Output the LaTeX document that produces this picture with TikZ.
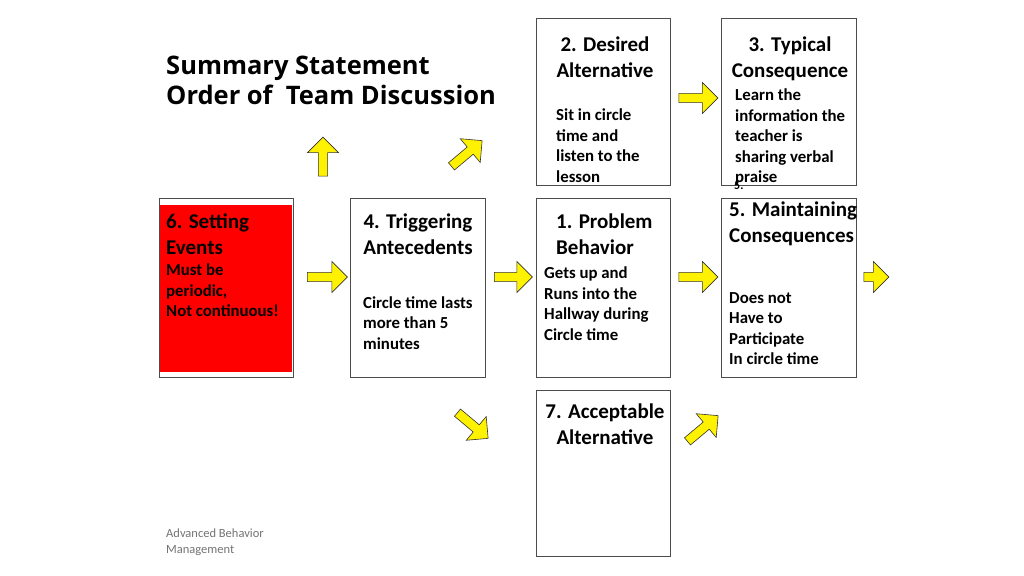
\documentclass[tikz,border=0pt]{standalone}
\usepackage{fontspec}
\setmainfont{Carlito}
\newfontfamily\titlefont{Open Sans}
\usetikzlibrary{shapes.arrows}
\begin{document}
\begin{tikzpicture}[x=1pt,y=-1pt,
  box/.style={draw=black!70,line width=0.6pt},
  yarr/.style={single arrow,draw=black!80,fill=yellow,line width=0.6pt,minimum height=#1,single arrow head extend=3pt,minimum width=31pt,inner sep=1pt},
  head/.style={font=\bfseries\fontsize{21}{25.5}\selectfont,align=center,inner sep=0pt},
  body/.style={font=\bfseries\fontsize{16.8}{20.5}\selectfont,align=left,anchor=north west,inner sep=0pt}]
\useasboundingbox (0,0) rectangle (1024,575);
\fill[white] (0,0) rectangle (1024,575);
% boxes
\draw[box] (159,198) rectangle (293,377);
\fill[red] (160,205) rectangle (292,372);
\draw[box] (350,198) rectangle (485,377);
\draw[box] (536,198) rectangle (670,377);
\draw[box] (721,198) rectangle (856,377);
\draw[box] (536,18) rectangle (670,185);
\draw[box] (721,18) rectangle (856,185);
\draw[box] (536,390) rectangle (670,556);
% title
\node[anchor=north west,inner sep=0pt,align=left,font=\titlefont\bfseries\fontsize{25.5}{30}\selectfont] (title) at (166,56) {Summary Statement\\Order of\ \ Team Discussion};
% texts
\node[head,anchor=north west,align=left] (t6) at (166,214) {6. Setting\\Events};
\node[body] (b6) at (166,264) {Must be\\periodic,\\Not continuous!};
\node[head,anchor=north] (t4) at (418,214) {4. Triggering\\Antecedents};
\node[body] (b4) at (363,296) {Circle time lasts\\more than 5\\minutes};
\node[head,anchor=north west,align=left] (t1) at (556,214) {1. Problem\\Behavior};
\node[body] (b1) at (544,267) {Gets up and\\Runs into the\\Hallway during\\Circle time};
\node[body,font=\bfseries\fontsize{12}{14}\selectfont] (s5) at (734,182) {5.};
\node[head,anchor=north west,align=left] (t5) at (729,202) {5. Maintaining\\Consequences};
\node[body] (b5) at (729,292) {Does not\\Have to\\Participate\\In circle time};
\node[head,anchor=north] (t2) at (605,37) {2. Desired\\Alternative};
\node[body] (b2) at (556,109) {Sit in circle\\time and\\listen to the\\lesson};
\node[head,anchor=north] (t3) at (790,37) {3. Typical\\Consequence};
\node[body] (b3) at (735,89) {Learn the\\information the\\teacher is\\sharing verbal\\praise};
\node[head,anchor=north] (t7) at (605,404) {7. Acceptable\\Alternative};
\node[anchor=north west,inner sep=0pt,align=left,text=black!55,font=\fontsize{12.5}{15.5}\selectfont] (foot) at (166,529) {Advanced Behavior\\Management};
% arrows
\node[yarr=40pt] (a1) at (325,277) {};
\node[yarr=38pt] (a2) at (511,277) {};
\node[yarr=39pt] (a3) at (696,277) {};
\node[yarr=25pt] (a4) at (874,277) {};
\node[yarr=39pt] (a5) at (696,98) {};
\node[yarr=39pt,rotate=90] (a6) at (323,159) {};
\node[yarr=40pt,rotate=40] (a7) at (465,155) {};
\node[yarr=40pt,rotate=-40] (a8) at (471,424) {};
\node[yarr=40pt,rotate=40] (a9) at (701,430) {};
\end{tikzpicture}
\end{document}
